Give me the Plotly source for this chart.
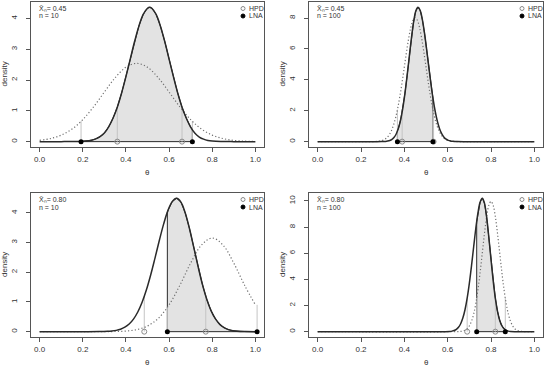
import numpy as np
import plotly.graph_objects as go

# ---------------- data ----------------
# Panel A: xbar = 0.45, n = 10
a_solid_x = [0.0, 0.10, 0.18, 0.22, 0.24, 0.26, 0.28, 0.30, 0.32, 0.34, 0.36, 0.38, 0.40, 0.42, 0.44, 0.46, 0.48, 0.50, 0.51,
             0.52, 0.54, 0.56, 0.58, 0.60, 0.62, 0.64, 0.66, 0.68, 0.70, 0.72, 0.74, 0.76, 0.78, 0.80, 0.84, 0.90, 1.0]
a_solid_y = [0, 0, 0.006, 0.022, 0.045, 0.088, 0.16, 0.28, 0.48, 0.76, 1.12, 1.58, 2.11, 2.68, 3.25, 3.75, 4.13, 4.33, 4.36,
             4.33, 4.13, 3.75, 3.25, 2.68, 2.11, 1.58, 1.12, 0.76, 0.47, 0.27, 0.15, 0.08, 0.04, 0.02, 0.005, 0, 0]
a_dot_x = [0.0, 0.05, 0.10, 0.15, 0.20, 0.25, 0.30, 0.35, 0.40, 0.45, 0.50, 0.55, 0.60, 0.65, 0.70, 0.75, 0.80, 0.85, 0.90, 0.95, 1.0]
a_dot_y = [0.042, 0.099, 0.212, 0.409, 0.715, 1.129, 1.610, 2.074, 2.415, 2.541, 2.415, 2.074, 1.610, 1.129, 0.715, 0.409,
           0.212, 0.099, 0.042, 0.016, 0.006]
a_hpd = [0.36, 0.66]
a_lna = [0.192, 0.708]

# Panel B: xbar = 0.45, n = 100
b_solid_x = [0.0, 0.25, 0.293, 0.313, 0.323, 0.333, 0.343, 0.353, 0.363, 0.373, 0.383, 0.393, 0.403, 0.413, 0.423, 0.433,
             0.443, 0.453, 0.463, 0.473, 0.483, 0.493, 0.503, 0.513, 0.523, 0.533, 0.543, 0.553, 0.563, 0.573, 0.583,
             0.593, 0.603, 0.613, 0.623, 0.643, 0.70, 1.0]
b_solid_y = [0, 0, 0.002, 0.015, 0.034, 0.072, 0.147, 0.282, 0.512, 0.876, 1.418, 2.170, 3.136, 4.284, 5.528, 6.741,
             7.767, 8.457, 8.69, 8.497, 7.915, 7.033, 5.961, 4.819, 3.716, 2.733, 1.918, 1.283, 0.819, 0.499, 0.289,
             0.161, 0.085, 0.043, 0.021, 0.004, 0, 0]
b_dot_x = [0.0, 0.25, 0.27, 0.28, 0.29, 0.30, 0.31, 0.32, 0.33, 0.34, 0.35, 0.36, 0.37, 0.38, 0.39, 0.40, 0.41, 0.42, 0.43,
           0.44, 0.45, 0.46, 0.47, 0.48, 0.49, 0.50, 0.51, 0.52, 0.53, 0.54, 0.55, 0.56, 0.57, 0.58, 0.59, 0.60, 0.61,
           0.62, 0.63, 0.65, 1.0]
b_dot_y = [0, 0.002, 0.012, 0.023, 0.046, 0.085, 0.153, 0.264, 0.437, 0.696, 1.064, 1.562, 2.201, 2.981, 3.876, 4.840,
           5.805, 6.687, 7.398, 7.860, 8.02, 7.860, 7.398, 6.687, 5.805, 4.840, 3.876, 2.981, 2.201, 1.562, 1.064, 0.696,
           0.437, 0.264, 0.153, 0.085, 0.046, 0.023, 0.012, 0.002, 0]
b_hpd = [0.39, 0.535]
b_lna = [0.368, 0.532]

# Panel C: xbar = 0.80, n = 10
c_solid_x = [0.0, 0.2, 0.275, 0.315, 0.335, 0.355, 0.375, 0.395, 0.415, 0.435, 0.455, 0.475, 0.495, 0.515, 0.535, 0.555,
             0.575, 0.595, 0.615, 0.635, 0.655, 0.675, 0.695, 0.715, 0.735, 0.755, 0.775, 0.795, 0.815, 0.835, 0.855,
             0.875, 0.895, 0.915, 0.955, 1.0]
c_solid_y = [0, 0, 0.002, 0.011, 0.022, 0.044, 0.083, 0.150, 0.257, 0.423, 0.662, 0.990, 1.410, 1.918, 2.487, 3.077,
             3.630, 4.085, 4.385, 4.49, 4.362, 3.998, 3.458, 2.822, 2.173, 1.579, 1.083, 0.700, 0.428, 0.246, 0.134,
             0.069, 0.033, 0.015, 0.003, 0]
c_dot_x = [0.0, 0.3, 0.35, 0.4, 0.45, 0.5, 0.55, 0.6, 0.65, 0.7, 0.75, 0.8, 0.85, 0.9, 0.95, 1.0]
c_dot_y = [0, 0.001, 0.006, 0.021, 0.069, 0.190, 0.448, 0.904, 1.562, 2.308, 2.917, 3.154, 2.917, 2.308, 1.562, 0.904]
c_hpd = [0.485, 0.77]
c_lna = [0.592, 1.008]

# Panel D: xbar = 0.80, n = 100
d_solid_x = [0.0, 0.5, 0.59, 0.61, 0.62, 0.63, 0.64, 0.65, 0.66, 0.67, 0.68, 0.69, 0.70, 0.71, 0.72, 0.73, 0.74, 0.75,
             0.76, 0.77, 0.78, 0.79, 0.80, 0.81, 0.82, 0.83, 0.84, 0.85, 0.86, 0.87, 0.88, 0.89, 0.91, 1.0]
d_solid_y = [0, 0, 0.003, 0.018, 0.040, 0.087, 0.176, 0.336, 0.607, 1.038, 1.677, 2.560, 3.694, 5.039, 6.495, 7.913,
             9.112, 9.916, 10.2, 9.817, 8.749, 7.221, 5.520, 3.909, 2.563, 1.556, 0.875, 0.456, 0.220, 0.098, 0.041,
             0.016, 0.002, 0]
d_dot_x = [0.0, 0.64, 0.66, 0.67, 0.68, 0.69, 0.70, 0.71, 0.72, 0.73, 0.74, 0.75, 0.76, 0.77, 0.78, 0.79, 0.80, 0.81,
           0.82, 0.83, 0.84, 0.85, 0.86, 0.87, 0.88, 0.89, 0.90, 0.91, 0.92, 0.93, 0.94, 0.96, 1.0]
d_dot_y = [0, 0.003, 0.022, 0.051, 0.111, 0.227, 0.438, 0.794, 1.349, 2.157, 3.237, 4.564, 6.047, 7.525, 8.799, 9.663,
           9.97, 9.663, 8.799, 7.525, 6.047, 4.564, 3.237, 2.157, 1.349, 0.794, 0.438, 0.227, 0.111, 0.051, 0.022,
           0.003, 0]
d_hpd = [0.69, 0.82]
d_lna = [0.734, 0.866]

xbar_labels = ["0.45", "0.45", "0.80", "0.80"]
n_labels = ["10", "100", "10", "100"]
y_ticks = [[0, 1, 2, 3, 4], [0, 2, 4, 6, 8], [0, 1, 2, 3, 4], [0, 2, 4, 6, 8, 10]]
x_ticks = [0.0, 0.2, 0.4, 0.6, 0.8, 1.0]
legend_labels = ["HPD", "LNA"]
x_title = "θ"
y_title = "density"

# ---------------- layout geometry (pixels) ----------------
W, H = 550, 367
boxes = [(31, 2, 264, 147), (309, 2, 543, 147), (31, 193, 264, 337), (309, 193, 543, 337)]

panels = [
    (a_solid_x, a_solid_y, a_dot_x, a_dot_y, a_hpd, a_lna),
    (b_solid_x, b_solid_y, b_dot_x, b_dot_y, b_hpd, b_lna),
    (c_solid_x, c_solid_y, c_dot_x, c_dot_y, c_hpd, c_lna),
    (d_solid_x, d_solid_y, d_dot_x, d_dot_y, d_hpd, d_lna),
]

FONT = "Liberation Sans, Arial, sans-serif"
DARK = "#2a2a2a"
TXT = "#333"
fig = go.Figure()
annotations = []
shapes = []

for i, (sx, sy, dx, dy, hpd, lna) in enumerate(panels):
    xa = "x" if i == 0 else f"x{i+1}"
    ya = "y" if i == 0 else f"y{i+1}"
    sx = np.array(sx); sy = np.array(sy)
    dx = np.array(dx); dy = np.array(dy)

    # shaded area under the posterior within the LNA interval
    lo, hi = lna
    inside = (sx > lo) & (sx < hi)
    ylo = float(np.interp(lo, sx, sy)); yhi = float(np.interp(hi, sx, sy))
    px = [lo] + list(sx[inside]) + [hi, hi, lo, lo]
    py = [ylo] + list(sy[inside]) + [yhi, 0, 0, ylo]
    fig.add_trace(go.Scatter(x=px, y=py, xaxis=xa, yaxis=ya, mode="lines", fill="toself",
                             fillcolor="#e3e3e3", line=dict(color=DARK, width=1), hoverinfo="skip",
                             showlegend=False))

    # light vertical guides
    for b in lna:
        fig.add_trace(go.Scatter(x=[b, b], y=[0, float(np.interp(b, dx, dy))], xaxis=xa, yaxis=ya, mode="lines",
                                 line=dict(color="#c4c4c4", width=1), showlegend=False, hoverinfo="skip"))
    for b in hpd:
        fig.add_trace(go.Scatter(x=[b, b], y=[0, float(np.interp(b, sx, sy))], xaxis=xa, yaxis=ya, mode="lines",
                                 line=dict(color="#c4c4c4", width=1), showlegend=False, hoverinfo="skip"))

    # normal approximation (dotted) and posterior (solid)
    fig.add_trace(go.Scatter(x=dx, y=dy, xaxis=xa, yaxis=ya, mode="lines", line_shape="spline",
                             line=dict(color="#707070", width=1.2, dash="1.2px,2.2px"), showlegend=False))
    fig.add_trace(go.Scatter(x=sx, y=sy, xaxis=xa, yaxis=ya, mode="lines", line_shape="spline",
                             line=dict(color=DARK, width=1.5), showlegend=False))

    # interval end points
    fig.add_trace(go.Scatter(x=hpd, y=[0, 0], xaxis=xa, yaxis=ya, mode="markers",
                             marker=dict(symbol="circle-open", size=5, color="#8a8a8a", line=dict(width=1)),
                             showlegend=False))
    fig.add_trace(go.Scatter(x=lna, y=[0, 0], xaxis=xa, yaxis=ya, mode="markers",
                             marker=dict(symbol="circle", size=5, color="black"), showlegend=False))

    # axes
    x0, y0, x1, y1 = boxes[i]
    ymax = max(sy.max(), dy.max())
    common = dict(showline=True, mirror=True, linecolor="#555", linewidth=1, ticks="outside", ticklen=4,
                  tickcolor="#555", showgrid=False, zeroline=False, automargin=False,
                  tickfont=dict(family=FONT, size=8, color=TXT))
    fig.update_layout(**{
        ("xaxis" if i == 0 else f"xaxis{i+1}"): dict(
            domain=[x0 / W, x1 / W], anchor=ya, range=[-0.04, 1.04], tickvals=x_ticks,
            ticktext=[f"{v:.1f}" for v in x_ticks], **common),
        ("yaxis" if i == 0 else f"yaxis{i+1}"): dict(
            domain=[1 - y1 / H, 1 - y0 / H], anchor=xa, range=[-0.04 * ymax, 1.04 * ymax],
            tickvals=y_ticks[i], tickangle=-90, ticklabelstandoff=6, **common),
    })

    # axis titles
    annotations.append(dict(x=(x0 + x1) / 2 / W, y=1 - (y1 + 25) / H, xref="paper", yref="paper",
                            xanchor="center", yanchor="middle", showarrow=False, text=x_title,
                            font=dict(family=FONT, size=8, color=TXT)))
    annotations.append(dict(x=(x0 - 27) / W, y=1 - (y0 + y1) / 2 / H, xref="paper", yref="paper",
                            xanchor="center", yanchor="middle", showarrow=False, text=y_title, textangle=-90,
                            font=dict(family=FONT, size=8, color=TXT)))

    # top-left text
    annotations.append(dict(x=(x0 + 6) / W, y=1 - (y0 + 6.5) / H, xref="paper", yref="paper", xanchor="left",
                            yanchor="middle", showarrow=False,
                            text=f"X\u0304\u2099= {xbar_labels[i]}",
                            font=dict(family=FONT, size=7, color=TXT)))
    annotations.append(dict(x=(x0 + 6) / W, y=1 - (y0 + 14) / H, xref="paper", yref="paper", xanchor="left",
                            yanchor="middle", showarrow=False, text=f"n = {n_labels[i]}",
                            font=dict(family=FONT, size=7, color=TXT)))
    # legend (top-right)
    for k, lab in enumerate(legend_labels):
        cy = y0 + 6.5 + k * 7.5
        annotations.append(dict(x=(x1 - 17) / W, y=1 - cy / H, xref="paper", yref="paper", xanchor="left",
                                yanchor="middle", showarrow=False, text=lab,
                                font=dict(family=FONT, size=7, color=TXT)))
        cx = x1 - 21
        shapes.append(dict(type="circle", xref="paper", yref="paper",
                           x0=(cx - 2) / W, x1=(cx + 2) / W, y0=1 - (cy + 2) / H, y1=1 - (cy - 2) / H,
                           line=dict(color="#8a8a8a" if k == 0 else "black", width=1),
                           fillcolor="white" if k == 0 else "black"))

fig.update_layout(width=W, height=H, margin=dict(l=0, r=0, t=0, b=0), autosize=False,
                  plot_bgcolor="white", paper_bgcolor="white", showlegend=False,
                  annotations=annotations, shapes=shapes)

fig.write_html("out.html", config={"displayModeBar": False, "staticPlot": True},
               post_script="document.body.style.margin='0';document.body.style.padding='0';"
                           "document.body.style.overflow='hidden';")
